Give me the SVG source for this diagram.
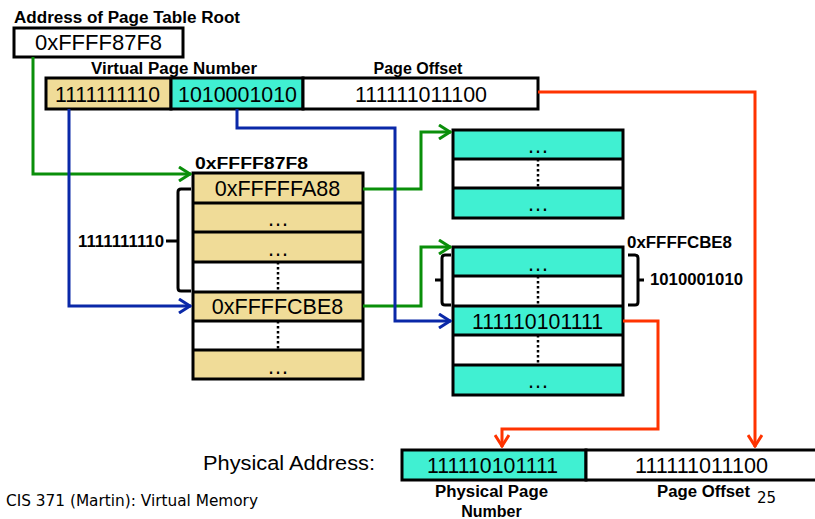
<svg xmlns="http://www.w3.org/2000/svg" width="815" height="519" viewBox="0 0 815 519">
<style>
.t{font-family:"Liberation Sans",Arial,sans-serif;fill:#000}
.b{font-weight:bold;font-size:16px}
.n{font-size:22px}
.h{font-size:21.5px}
.box{stroke:#000;stroke-width:3}
.y{fill:#F0DC98}
.c{fill:#40F0D2}
.w{fill:#fff}
.dot{stroke:#000;stroke-width:2.5;stroke-dasharray:2.5 2.5;fill:none}
.br{stroke:#000;stroke-width:3;fill:none}
.g{stroke:#0A8F0A;stroke-width:3;fill:none}
.bl{stroke:#0A28A8;stroke-width:3;fill:none}
.r{stroke:#FF3300;stroke-width:3;fill:none}
</style>
<defs>
<marker id="ag" viewBox="0 0 14 16" refX="13" refY="8" markerWidth="14" markerHeight="16" markerUnits="userSpaceOnUse" orient="auto"><path d="M1,1 L12,8 L1,15" fill="none" stroke="#0A8F0A" stroke-width="3"/></marker>
<marker id="ab" viewBox="0 0 14 16" refX="13" refY="8" markerWidth="14" markerHeight="16" markerUnits="userSpaceOnUse" orient="auto"><path d="M1,1 L12,8 L1,15" fill="none" stroke="#0A28A8" stroke-width="3"/></marker>
<marker id="ar" viewBox="0 0 14 16" refX="13" refY="8" markerWidth="14" markerHeight="16" markerUnits="userSpaceOnUse" orient="auto"><path d="M1,1 L12,8 L1,15" fill="none" stroke="#FF3300" stroke-width="3"/></marker>
</defs>
<rect width="815" height="519" fill="#fff"/>

<g id="root">
<text class="t b" x="14" y="23" textLength="226" lengthAdjust="spacingAndGlyphs">Address of Page Table Root</text>
<rect class="box w" x="14" y="28" width="169" height="29"/>
<text class="t" font-size="22" x="98.5" y="50" text-anchor="middle">0xFFFF87F8</text>
</g>

<g id="virtual-address">
<text class="t b" x="174" y="74" text-anchor="middle" textLength="166" lengthAdjust="spacingAndGlyphs">Virtual Page Number</text>
<text class="t b" x="418" y="74" text-anchor="middle">Page Offset</text>
<rect class="box y" x="46" y="78" width="125" height="31"/>
<rect class="box c" x="171" y="78" width="132" height="31"/>
<rect class="box w" x="303" y="78" width="235" height="31"/>
<text class="t n" x="107.5" y="102" text-anchor="middle" textLength="105" lengthAdjust="spacingAndGlyphs">1111111110</text>
<text class="t n" x="237.5" y="102" text-anchor="middle" textLength="119" lengthAdjust="spacingAndGlyphs">1010001010</text>
<text class="t n" x="421" y="102" text-anchor="middle" textLength="132" lengthAdjust="spacingAndGlyphs">111111011100</text>
</g>

<g id="table1">
<text class="t b" x="195" y="169" textLength="113" lengthAdjust="spacingAndGlyphs">0xFFFF87F8</text>
<rect class="y" x="193" y="173" width="170" height="30"/>
<rect class="y" x="193" y="203" width="170" height="29"/>
<rect class="y" x="193" y="232" width="170" height="30"/>
<rect class="w" x="193" y="262" width="170" height="30"/>
<rect class="y" x="193" y="292" width="170" height="29"/>
<rect class="w" x="193" y="321" width="170" height="29"/>
<rect class="y" x="193" y="350" width="170" height="29"/>
<path class="br" d="M193,173 H363 V379 H193 Z M193,203 H363 M193,232 H363 M193,262 H363 M193,292 H363 M193,321 H363 M193,350 H363"/>
<path class="dot" d="M278,262 V292 M278,321 V350"/>
<text class="t h" x="277.5" y="196" text-anchor="middle">0xFFFFFA88</text>
<text class="t" font-size="22" x="278" y="226" text-anchor="middle">…</text>
<text class="t" font-size="22" x="278" y="256" text-anchor="middle">…</text>
<text class="t h" x="277.5" y="314" text-anchor="middle">0xFFFFCBE8</text>
<text class="t" font-size="22" x="278" y="374" text-anchor="middle">…</text>
<path class="br" d="M191,189 H181 Q178,189 178,192 V288 Q178,291 181,291 H191 M166,241 H178"/>
<text class="t b" x="78" y="247" textLength="86" lengthAdjust="spacingAndGlyphs">1111111110</text>
</g>

<g id="table2">
<rect class="c" x="453" y="130" width="170" height="29"/>
<rect class="w" x="453" y="159" width="170" height="29"/>
<rect class="c" x="453" y="188" width="170" height="30"/>
<path class="br" d="M453,130 H623 V218 H453 Z M453,159 H623 M453,188 H623"/>
<path class="dot" d="M538,159 V188"/>
<text class="t" font-size="22" x="538" y="153" text-anchor="middle">…</text>
<text class="t" font-size="22" x="538" y="211" text-anchor="middle">…</text>
</g>

<g id="table3">
<text class="t b" x="627" y="248" textLength="105" lengthAdjust="spacingAndGlyphs">0xFFFFCBE8</text>
<rect class="c" x="453" y="247" width="170" height="29"/>
<rect class="w" x="453" y="276" width="170" height="30"/>
<rect class="c" x="453" y="306" width="170" height="29"/>
<rect class="w" x="453" y="335" width="170" height="30"/>
<rect class="c" x="453" y="365" width="170" height="30"/>
<path class="br" d="M453,247 H623 V395 H453 Z M453,276 H623 M453,306 H623 M453,335 H623 M453,365 H623"/>
<path class="dot" d="M538,276 V306 M538,335 V365"/>
<text class="t" font-size="22" x="538" y="271" text-anchor="middle">…</text>
<text class="t n" x="537.5" y="329" text-anchor="middle" textLength="131" lengthAdjust="spacingAndGlyphs">111110101111</text>
<text class="t" font-size="22" x="538" y="388" text-anchor="middle">…</text>
<path class="br" d="M451,255 H445 Q442,255 442,258 V302 Q442,305 445,305 H451 M435,280 H442"/>
<path class="br" d="M628,255 H635 Q638,255 638,258 V302 Q638,305 635,305 H628 M638,280 H644"/>
<text class="t b" x="650" y="285" textLength="93" lengthAdjust="spacingAndGlyphs">1010001010</text>
</g>

<g id="physical-address">
<text class="t" font-size="20" x="203" y="470" textLength="172" lengthAdjust="spacingAndGlyphs">Physical Address:</text>
<rect class="box c" x="402" y="450" width="184" height="30"/>
<rect class="box w" x="586" y="450" width="232" height="30"/>
<text class="t n" x="492.5" y="473" text-anchor="middle" textLength="131" lengthAdjust="spacingAndGlyphs">111110101111</text>
<text class="t n" x="701.5" y="473" text-anchor="middle" textLength="133" lengthAdjust="spacingAndGlyphs">111111011100</text>
<text class="t b" x="491.5" y="497" text-anchor="middle" textLength="113" lengthAdjust="spacingAndGlyphs">Physical Page</text>
<text class="t b" x="491.5" y="517" text-anchor="middle">Number</text>
<text class="t b" x="703.5" y="497" text-anchor="middle" textLength="93" lengthAdjust="spacingAndGlyphs">Page Offset</text>
</g>

<g id="footer">
<text x="6" y="506" font-family="'DejaVu Sans',Verdana,sans-serif" font-size="15" textLength="252" lengthAdjust="spacingAndGlyphs">CIS 371 (Martin): Virtual Memory</text>
<text x="757" y="503" font-family="'DejaVu Sans',Verdana,sans-serif" font-size="15">25</text>
</g>

<g id="connectors">
<path class="g" d="M33,57 V174 H191" marker-end="url(#ag)"/>
<path class="g" d="M363,189 H421 V132 H451" marker-end="url(#ag)"/>
<path class="g" d="M363,306 H421 V247 H451" marker-end="url(#ag)"/>
<path class="bl" d="M69,109 V306 H191" marker-end="url(#ab)"/>
<path class="bl" d="M237,109 V128 H395 V321 H451" marker-end="url(#ab)"/>
<path class="r" d="M538,92 H755 V447" marker-end="url(#ar)"/>
<path class="r" d="M623,321 H658 V429 H502 V447" marker-end="url(#ar)"/>
</g>
</svg>
